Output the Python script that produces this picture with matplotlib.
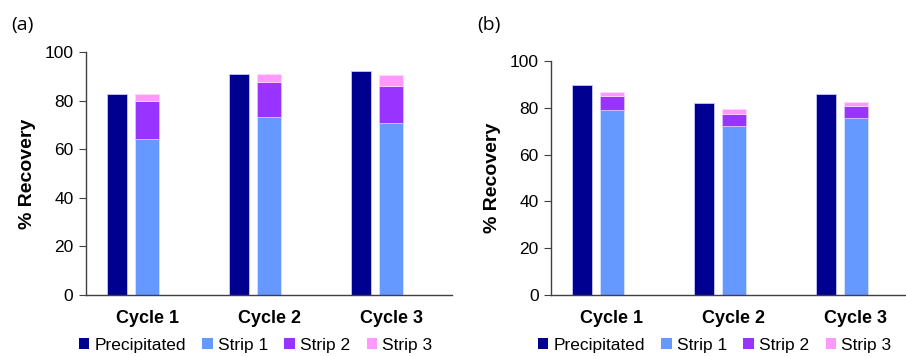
import matplotlib.pyplot as plt
from matplotlib.patches import Patch
import numpy as np

plt.rcParams['font.family'] = ['Liberation Sans', 'DejaVu Sans']

cycles = ["Cycle 1", "Cycle 2", "Cycle 3"]
series_names = ["Precipitated", "Strip 1", "Strip 2", "Strip 3"]
colors = ["#000090", "#6699FF", "#9933FF", "#FF99FF"]

# panel (a)
precip_a = [82.6, 91.1, 92.0]
strip1_a = [64.2, 73.3, 70.9]
strip2_a = [15.6, 14.2, 15.2]
strip3_a = [2.9, 3.3, 4.6]

# panel (b)
precip_b = [89.6, 81.9, 85.9]
strip1_b = [78.9, 72.3, 75.5]
strip2_b = [6.0, 5.2, 5.3]
strip3_b = [2.0, 1.9, 1.8]


def draw_panel(ax, precip, s1, s2, s3):
    x = np.arange(len(cycles))
    ax.bar(x - 0.245, precip, width=0.17, color=colors[0], edgecolor="#c8c8ff", linewidth=0.6)
    ax.bar(x, s1, width=0.2, color=colors[1], edgecolor="#d8e4ff", linewidth=0.6)
    ax.bar(x, s2, width=0.2, bottom=s1, color=colors[2], edgecolor="#d8c0ff", linewidth=0.6)
    ax.bar(x, s3, width=0.2, bottom=np.add(s1, s2), color=colors[3], edgecolor="#ffd8ff", linewidth=0.6)

    ax.set_xlim(-0.5, 2.5)
    ax.set_ylim(0, 100)
    ax.set_yticks(range(0, 101, 20))
    ax.set_xticks(x)
    ax.set_xticklabels(cycles, fontsize=13, fontweight="bold")
    ax.tick_params(axis="x", length=0, pad=11)
    ax.tick_params(axis="y", labelsize=12.5, direction="out", length=5, width=0.8,
                   color="#404040", pad=4)
    for s in ["top", "right"]:
        ax.spines[s].set_visible(False)
    for s in ["left", "bottom"]:
        ax.spines[s].set_color("#404040")
        ax.spines[s].set_linewidth(1.0)
    ax.set_ylabel("% Recovery", fontsize=14, fontweight="bold", labelpad=6)


fig = plt.figure(figsize=(9.06, 3.56), dpi=100)
W, H = 906, 356
ax1 = fig.add_axes([86 / W, 61 / H, 366 / W, 243 / H])
ax2 = fig.add_axes([551 / W, 61 / H, 366 / W, 234 / H])

draw_panel(ax1, precip_a, strip1_a, strip2_a, strip3_a)
draw_panel(ax2, precip_b, strip1_b, strip2_b, strip3_b)

fig.text(11 / W, 1 - 25 / H, "(a)", fontsize=14, va="center", ha="left",
         family=["Open Sans", "DejaVu Sans"])
fig.text(477 / W, 1 - 25 / H, "(b)", fontsize=14, va="center", ha="left",
         family=["Open Sans", "DejaVu Sans"])

handles = [Patch(facecolor=c, edgecolor="none") for c in colors]
for cx in [255.5 / W, 714.5 / W]:
    fig.legend(handles, series_names, loc="center", bbox_to_anchor=(cx, 1 - 345.5 / H),
               ncol=4, frameon=False, fontsize=12.5, handlelength=0.6, handleheight=0.6,
               handletextpad=0.3, columnspacing=0.95, borderpad=0, borderaxespad=0)

fig.savefig("out.png", dpi=100)
